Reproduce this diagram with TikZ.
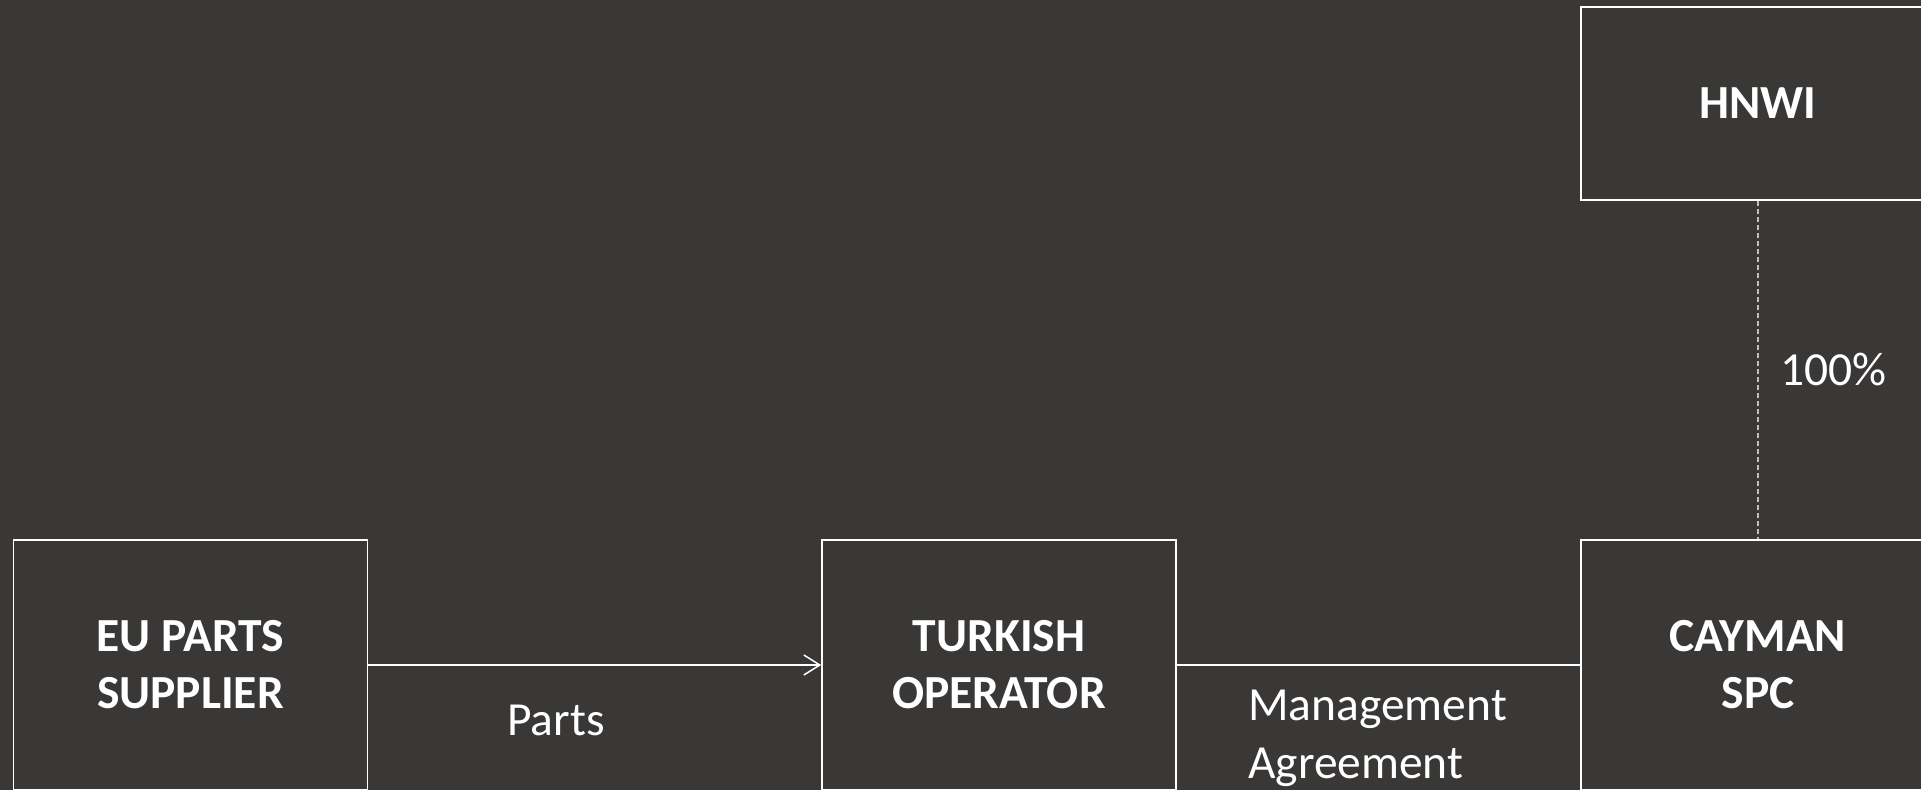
\documentclass[tikz,border=0pt]{standalone}
\usepackage{fontspec}
\setmainfont{Carlito}
\usetikzlibrary{arrows.meta}
\definecolor{slide}{RGB}{58,56,54}
\definecolor{dashgrey}{RGB}{190,190,190}

\begin{document}
\begin{tikzpicture}[x=1pt, y=-1pt,
        entity/.style={draw=white, line width=1.5pt, text=white, align=center,
            font=\fontsize{47.5}{57}\selectfont\bfseries,
            minimum width=354pt, minimum height=250pt, inner sep=0pt},
        tag/.style={text=white, font=\fontsize{47.5}{58}\selectfont, inner sep=0pt},
        link/.style={white, line width=1.5pt}]
    \useasboundingbox (0,0) rectangle (1921,790);
    \fill[slide] (0,0) rectangle (1921,790);
    \clip (0,0) rectangle (1921,790);
    \node[entity] (supplier) at (190.5,665) {EU PARTS\\SUPPLIER};
    \node[entity] (operator) at (999,665) {TURKISH\\OPERATOR};
    \node[entity] (spc) at (1758,665) {CAYMAN\\SPC};
    \node[entity, minimum height=193pt] (owner) at (1758,103.5) {HNWI};
    \draw[link, -{Straight Barb[length=16pt, width=20pt]}] (supplier) -- (operator);
    \draw[link] (operator) -- (spc);
    \draw[dashgrey, line width=1.5pt, dash pattern=on 5pt off 3pt] (owner) -- (spc);
    \node[tag, anchor=base] (parts) at (556,735) {Parts};
    \node[tag, anchor=base west, align=left] (agreement) at (1248,778) {Management\\Agreement};
    \node[tag, anchor=base west] (share) at (1780,385) {100\%};
\end{tikzpicture}
\end{document}
